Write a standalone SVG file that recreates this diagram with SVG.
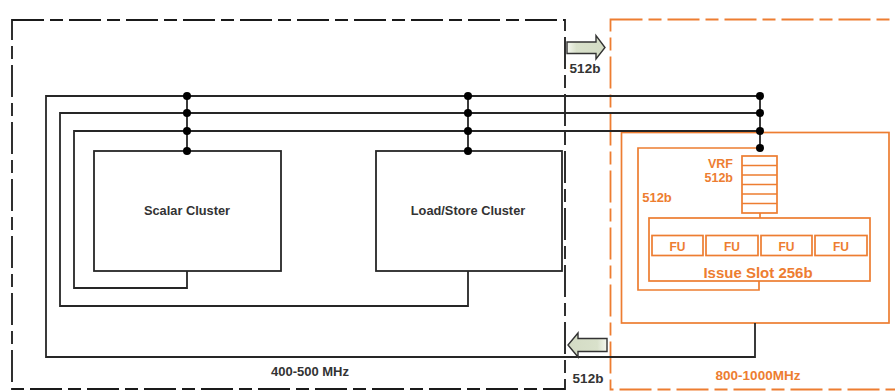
<svg xmlns="http://www.w3.org/2000/svg" width="895" height="392" viewBox="0 0 895 392">
<style>
.blk{fill:none;stroke:#262626;stroke-width:1.8}
.dash{fill:none;stroke:#1a1a1a;stroke-width:1.8;stroke-dasharray:32 6 13 6}
.odash{fill:none;stroke:#ED7D31;stroke-width:1.8;stroke-dasharray:32 6 13 6}
.org{fill:none;stroke:#ED7D31;stroke-width:1.7}
.dot{fill:#000}
.t{font-family:"Liberation Sans",Arial,sans-serif;font-weight:bold;fill:#333;text-anchor:middle}
.ot{font-family:"Liberation Sans",Arial,sans-serif;font-weight:bold;fill:#ED7D31;text-anchor:middle}
.arr{stroke:#333;stroke-width:1.4}
</style>
<defs>
<linearGradient id="gr" x1="0" y1="0" x2="1" y2="0">
<stop offset="0" stop-color="#f4f7ef"/>
<stop offset="0.25" stop-color="#d9e1cb"/>
<stop offset="1" stop-color="#d3dbc4"/>
</linearGradient>
<linearGradient id="gl" x1="1" y1="0" x2="0" y2="0">
<stop offset="0" stop-color="#f4f7ef"/>
<stop offset="0.25" stop-color="#d9e1cb"/>
<stop offset="1" stop-color="#d3dbc4"/>
</linearGradient>
</defs>

<g id="domain-low">
<rect class="dash" x="12" y="20" width="553" height="369"/>
<text class="t" x="310" y="376" font-size="13">400-500 MHz</text>
</g>
<g id="domain-high">
<rect class="odash" x="610.5" y="19.5" width="320" height="370"/>
<text class="ot" x="758" y="380" font-size="13.5">800-1000MHz</text>
</g>

<g id="scalar-cluster">
<rect class="blk" x="94" y="151" width="187" height="120" fill="#fff"/>
<text class="t" x="187" y="215" font-size="12.8">Scalar Cluster</text>
</g>
<g id="loadstore-cluster">
<rect class="blk" x="376" y="151" width="186" height="120"/>
<text class="t" x="468" y="215" font-size="12.8">Load/Store Cluster</text>
</g>

<g id="vector-cluster">
<rect class="org" x="621.5" y="132.5" width="267.5" height="190.5"/>
<path class="org" d="M760,148 H638 V290 H759 V281"/>
<text class="ot" x="657" y="202" font-size="13">512b</text>
</g>
<g id="vrf">
<rect class="org" x="742" y="156" width="35" height="57"/>
<path class="org" d="M742,165.5 H777 M742,175 H777 M742,184.5 H777 M742,194 H777 M742,203.5 H777"/>
<text class="ot" x="733" y="168" font-size="12.5" style="text-anchor:end">VRF</text>
<text class="ot" x="733" y="182" font-size="12.5" style="text-anchor:end">512b</text>
</g>
<g id="issue-slot">
<rect class="org" x="649" y="218" width="221" height="63"/>
<text class="ot" x="758" y="278" font-size="15">Issue Slot 256b</text>
</g>
<g id="fu1"><rect class="org" x="652" y="235.5" width="51" height="20"/><text class="ot" x="677.5" y="250.5" font-size="12">FU</text></g>
<g id="fu2"><rect class="org" x="706" y="235.5" width="52" height="20"/><text class="ot" x="732" y="250.5" font-size="12">FU</text></g>
<g id="fu3"><rect class="org" x="761" y="235.5" width="51" height="20"/><text class="ot" x="786.5" y="250.5" font-size="12">FU</text></g>
<g id="fu4"><rect class="org" x="815" y="235.5" width="52" height="20"/><text class="ot" x="841" y="250.5" font-size="12">FU</text></g>

<g id="connectors">
<path class="blk" d="M760,96 H46 V357 H755 V323"/>
<path class="blk" d="M760,113 H60 V306 H468 V271"/>
<path class="blk" d="M760,131 H74 V288 H187 V271"/>
<path class="blk" d="M187,96 V151 M468,96 V151 M760,96 V148"/>
<path class="org" d="M760,213 V218"/>
<circle class="dot" cx="187" cy="96" r="4"/>
<circle class="dot" cx="187" cy="113" r="4"/>
<circle class="dot" cx="187" cy="131" r="4"/>
<circle class="dot" cx="187" cy="151" r="4"/>
<circle class="dot" cx="468" cy="96" r="4"/>
<circle class="dot" cx="468" cy="113" r="4"/>
<circle class="dot" cx="468" cy="131" r="4"/>
<circle class="dot" cx="468" cy="151" r="4"/>
<circle class="dot" cx="760" cy="96" r="4"/>
<circle class="dot" cx="760" cy="113" r="4"/>
<circle class="dot" cx="760" cy="131" r="4"/>
<circle class="dot" cx="760" cy="148" r="4"/>
</g>

<g id="arrow-out">
<polygon class="arr" fill="url(#gr)" points="567,42 596,42 596,35.5 605,47.5 596,59 596,53.5 567,53.5"/>
<text class="t" x="585" y="73" font-size="13.5" fill="#222">512b</text>
</g>
<g id="arrow-in">
<polygon class="arr" fill="url(#gl)" points="607,338.5 578,338.5 578,333 568,345 578,357 578,351.5 607,351.5"/>
<text class="t" x="588" y="383" font-size="13.5">512b</text>
</g>
</svg>
